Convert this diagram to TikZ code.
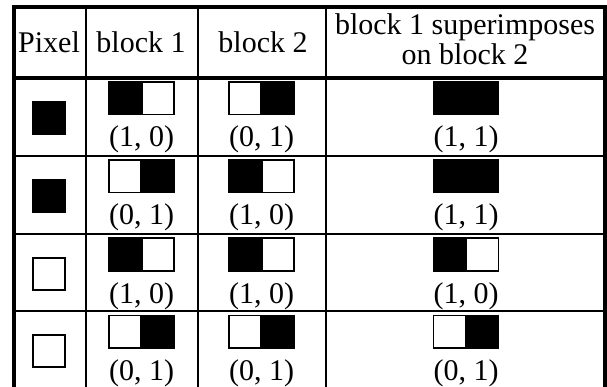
\documentclass[tikz,border=0pt]{standalone}
\usepackage{fontspec}
\setmainfont{Liberation Serif}

\tikzset{
	cell/.style={draw,line width=1.5pt,minimum width=32pt,minimum height=32.5pt,inner sep=0pt},
	pix/.style={draw,line width=2pt,minimum size=32pt,inner sep=0pt},
	lbl/.style={anchor=base,inner sep=0pt,font=\fontsize{30}{30}\selectfont}
}

\begin{document}
\begin{tikzpicture}[x=1pt,y=-1pt]
	\useasboundingbox (0,0) rectangle (607,387);

	% header
	\node[lbl] (hpix) at (49,53) {Pixel};
	\node[lbl] (hbone) at (141,53) {block 1};
	\node[lbl] (hbtwo) at (263,53) {block 2};
	\node[lbl] (hsupa) at (465,35) {block 1 superimposes};
	\node[lbl] (hsupb) at (465,65) {on block 2};

	% rows: top / pixel / block 1 / block 2 / superimposed / labels
	\foreach \rt/\pc/\al/\ar/\bl/\br/\sl/\sr/\la/\lb/\ls [count=\i] in {
		78/black/black/white/white/black/black/black/{(1, 0)}/{(0, 1)}/{(1, 1)},
		156/black/white/black/black/white/black/black/{(0, 1)}/{(1, 0)}/{(1, 1)},
		234/white/black/white/black/white/black/white/{(1, 0)}/{(1, 0)}/{(1, 0)},
		311/white/white/black/white/black/white/black/{(0, 1)}/{(0, 1)}/{(0, 1)}}
	{
		\node[pix,fill=\pc] (p\i) at (49,\rt+40) {};
		\node[cell,fill=\al] (al\i) at (125,\rt+20.5) {};
		\node[cell,fill=\ar] (ar\i) at (158,\rt+20.5) {};
		\node[cell,fill=\bl] (bl\i) at (245,\rt+20.5) {};
		\node[cell,fill=\br] (br\i) at (278,\rt+20.5) {};
		\node[cell,fill=\sl] (sl\i) at (449.5,\rt+20.5) {};
		\node[cell,fill=\sr] (sr\i) at (482.5,\rt+20.5) {};
		\node[lbl] (la\i) at (141.5,\rt+69) {\la};
		\node[lbl] (lb\i) at (261.5,\rt+69) {\lb};
		\node[lbl] (ls\i) at (466,\rt+69) {\ls};
	}

	% table lines
	\draw[line width=4pt] (14,387) -- (14,7) -- (605,7) -- (605,387); %frame
	\draw[line width=4pt] (14,78) -- (605,78); %below header
	\foreach \xx in {86,198,326}
		\draw[line width=2pt] (\xx,7) -- (\xx,387);
	\foreach \yy in {156,234,311}
		\draw[line width=2pt] (14,\yy) -- (605,\yy);

\end{tikzpicture}
\end{document}
